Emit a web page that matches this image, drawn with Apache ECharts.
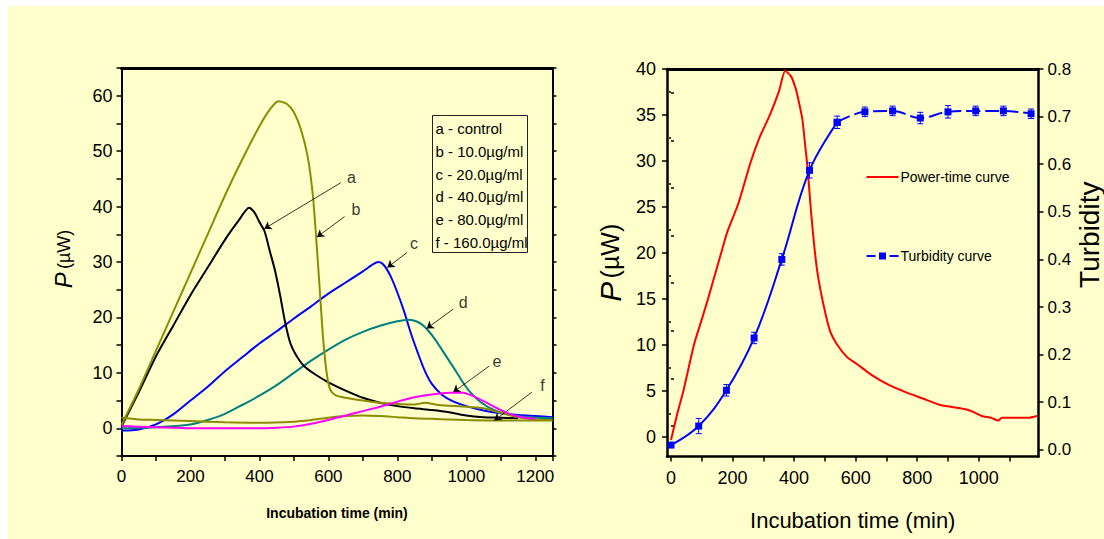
<!DOCTYPE html>
<html>
<head>
<meta charset="utf-8">
<script src="https://cdn.jsdelivr.net/npm/echarts@6/dist/echarts.min.js"></script>
<style>
html,body{margin:0;padding:0;background:#ffffff;}
#bg{position:absolute;left:8px;top:6px;width:1096px;height:533px;background:#FFFFCC;}
#c{position:absolute;left:0;top:0;width:1104px;height:539px;}
</style>
</head>
<body>
<div id="bg"></div>
<div id="c"></div>
<script>
// ---------------- Left panel data: P (µW) vs incubation time (min) ----------------
const curveA = [[0,0.3],[50,6.5],[100,13],[150,18.5],[200,24],[250,29],[300,34],[340,37.5],[370,39.8],[385,39],[400,37.2],[415,35.5],[430,32],[445,28.5],[460,24],[475,19],[490,15.3],[510,12.8],[530,11.2],[560,9.8],[600,8.3],[650,6.8],[700,5.5],[750,4.6],[800,4.0],[850,3.6],[900,3.3],[950,2.9],[1000,2.3],[1050,2.0],[1100,1.9],[1150,1.8]];
const curveB = [[0,0.6],[50,7],[100,14],[150,21],[200,28],[250,35],[300,42],[350,48.5],[400,54.5],[430,57.5],[455,59],[480,58.5],[500,57],[520,54],[540,49],[555,42],[565,34],[575,25],[585,16],[595,10],[605,7],[620,6],[650,5.5],[700,5],[750,4.6],[800,4.4],[850,4.3],[880,4.6],[920,4.2],[1000,3.9],[1050,3.6],[1100,2.8],[1150,2.0],[1200,1.6],[1250,1.5]];
const curveC = [[0,-0.4],[50,-0.2],[100,0.7],[150,2.5],[200,5],[250,7.5],[300,10.3],[350,12.8],[400,15.3],[450,17.5],[500,19.8],[550,22],[600,24.3],[650,26.3],[700,28.3],[730,29.6],[745,30],[760,29.5],[780,27.5],[800,24.5],[820,21],[840,17],[860,13.5],[880,10.3],[900,8],[930,6],[960,4.9],[1000,4],[1050,3.2],[1100,2.7],[1150,2.4],[1200,2.2],[1250,2.0]];
const curveD = [[0,0],[100,0.2],[200,0.7],[250,1.5],[300,2.6],[350,4.2],[400,5.9],[450,7.8],[500,10],[550,12.2],[600,14.2],[650,16],[700,17.4],[750,18.5],[800,19.3],[830,19.6],[850,19.4],[870,18.8],[890,17.6],[910,16],[930,14.1],[950,12.2],[970,10.3],[990,8.3],[1010,6.6],[1040,4.8],[1080,3.3],[1120,2.5],[1180,2.0],[1250,1.8]];
const curveE = [[0,0.4],[100,0.2],[200,0],[300,0],[400,0],[450,0.1],[500,0.3],[550,0.8],[600,1.5],[650,2.3],[700,3.1],[750,3.9],[800,4.8],[850,5.6],[900,6.1],[950,6.4],[990,6.4],[1020,5.8],[1050,4.9],[1080,3.9],[1110,3.0],[1140,2.3],[1170,1.9],[1200,1.7]];
const curveF = [[0,1.9],[50,1.6],[100,1.5],[200,1.3],[300,1.1],[400,1.0],[500,1.2],[550,1.5],[600,1.9],[650,2.2],[700,2.3],[750,2.2],[800,2.0],[850,1.8],[900,1.7],[950,1.6],[1000,1.5],[1100,1.4],[1200,1.4],[1250,1.4]];
const leftNames = ['a - control','b - 10.0µg/ml','c - 20.0µg/ml','d - 40.0µg/ml','e - 80.0µg/ml','f - 160.0µg/ml'];
// annotation letters and arrows (data coordinates: label, arrow start, arrow end)
const annLabels = ['a','b','c','d','e','f'];
const annText = [[667,45.2],[680,39.4],[848,33.3],[991,22.7],[1089,12.1],[1221,7.8]];
const annFrom = [[636,44.3],[647,38.2],[828,31.7],[962,21.5],[1066,11.2],[1190,6.5]];
const annTo = [[414,36],[567,34.5],[771,29],[885,18],[962,6.5],[1081,1.4]];

// ---------------- Right panel data ----------------
const powerCurve = [[0,-0.3],[20,2.5],[40,5],[75,10.1],[100,12.8],[120,15],[162,19.9],[183,22.3],[218,25.3],[259,29.9],[287,32.5],[321,35],[351,37.6],[371,39.8],[390,39.2],[404,38],[415,36.5],[427,34.5],[435,32],[443,29.5],[455,24.5],[466,20.6],[477,17.6],[494,14.6],[516,11.6],[539,10.1],[572,8.7],[606,7.9],[650,6.8],[706,5.7],[762,4.9],[818,4.2],[874,3.5],[929,3.2],[960,3.0],[985,2.7],[1010,2.3],[1041,2.1],[1063,1.8],[1075,2.1],[1131,2.1],[1160,2.1],[1190,2.3]];
const turbTime = [0,90,180,270,360,450,540,630,720,810,900,990,1080,1170];
const turbValue = [0.01,0.05,0.125,0.235,0.40,0.587,0.688,0.71,0.712,0.697,0.71,0.712,0.712,0.706];
const turbError = [0.005,0.016,0.012,0.012,0.012,0.016,0.013,0.01,0.01,0.012,0.013,0.01,0.01,0.01];
const rightNames = ['Power-time curve','Turbidity curve'];

// tick label values
const leftXLabels = [0,200,400,600,800,1000,1200];
const leftYLabels = [0,10,20,30,40,50,60];
const rightXLabels = [0,200,400,600,800,1000];
const rightXTicks = [0,100,200,300,400,500,600,700,800,900,1000,1100];
const rightYLabels = [0,5,10,15,20,25,30,35,40];
const rightYMinor = [2.5,7.5,12.5,17.5,22.5,27.5,32.5,37.5];
const turbLabels = [0,0.1,0.2,0.3,0.4,0.5,0.6,0.7,0.8];
const turbMinor = [0.05,0.15,0.25,0.35,0.45,0.55,0.65,0.75];

// ---------------- styles ----------------
const FONT = 'Arial, "Liberation Sans", Helvetica, sans-serif';
const BLACK = '#000000';
const RED = '#ff0000', BLUE = '#0000ff';
const colors = {a:'#000000', b:'#8c8c00', c:'#0000ff', d:'#008080', e:'#ff00ff', f:'#8c8c00'};

const chart = echarts.init(document.getElementById('c'), null, {renderer:'svg', width:1104, height:539});

function lineSeries(name, data, color, z){
  return {type:'line', name, data, xAxisIndex:0, yAxisIndex:0, showSymbol:false, symbol:'none',
    smooth:0.25, lineStyle:{color, width:2}, itemStyle:{color}, z, silent:true};
}

const axisLineStyle = (w)=>({show:true, onZero:false, lineStyle:{color:BLACK, width:w}});

const option = {
  animation:false,
  backgroundColor:'transparent',
  grid:[
    {left:121.5, top:68, width:431, height:388},
    {left:667, top:69, width:373, height:387.5}
  ],
  xAxis:[
    {gridIndex:0, type:'value', min:0, max:1250, interval:100, position:'bottom',
      axisLine:axisLineStyle(2),
      axisTick:{show:true, inside:false, length:5, lineStyle:{color:BLACK, width:1.5}},
      axisLabel:{formatter:v=>leftXLabels.includes(v)?String(v):'', fontSize:17, color:BLACK, fontFamily:FONT, margin:12},
      splitLine:{show:false},
      name:'Incubation time (min)', nameLocation:'middle', nameGap:50,
      nameTextStyle:{fontSize:14, fontWeight:'bold', color:BLACK, fontFamily:FONT}},
    {gridIndex:0, type:'value', min:0, max:1250, position:'top',
      axisLine:axisLineStyle(3), axisTick:{show:false}, axisLabel:{show:false}, splitLine:{show:false}},
    {gridIndex:1, type:'value', min:-13, max:1194, position:'bottom',
      axisLine:axisLineStyle(2.5),
      axisTick:{show:true, inside:false, length:5, customValues:rightXTicks, lineStyle:{color:BLACK, width:1.5}},
      axisLabel:{customValues:rightXLabels, formatter:v=>String(v), fontSize:18, color:BLACK, fontFamily:FONT, margin:12},
      splitLine:{show:false},
      name:'Incubation time (min)', nameLocation:'middle', nameGap:53,
      nameTextStyle:{fontSize:22, color:BLACK, fontFamily:FONT}},
    {gridIndex:1, type:'value', min:-13, max:1194, position:'top',
      axisLine:axisLineStyle(3), axisTick:{show:false}, axisLabel:{show:false}, splitLine:{show:false}}
  ],
  yAxis:[
    {gridIndex:0, type:'value', min:-5, max:65, interval:5, position:'left',
      axisLine:axisLineStyle(2),
      axisTick:{show:true, inside:false, length:5, lineStyle:{color:BLACK, width:1.5}},
      axisLabel:{formatter:v=>leftYLabels.includes(v)?String(v):'', fontSize:18, color:BLACK, fontFamily:FONT, margin:9},
      splitLine:{show:false},
      name:'{p|P} {u|(µW)}', nameLocation:'middle', nameGap:46, nameRotate:90,
      nameTextStyle:{color:BLACK, fontFamily:FONT, padding:[0,0,0,6],
        rich:{p:{fontSize:24, fontStyle:'italic', fontFamily:FONT, color:BLACK}, u:{fontSize:18, fontFamily:FONT, color:BLACK}}}},
    {gridIndex:0, type:'value', min:-5, max:65, interval:5, position:'right',
      axisLine:axisLineStyle(2),
      axisTick:{show:true, inside:false, length:4, lineStyle:{color:BLACK, width:1.5}},
      axisLabel:{show:false}, splitLine:{show:false}},
    {gridIndex:1, type:'value', min:-2.1, max:40, position:'left',
      axisLine:axisLineStyle(2.5),
      axisTick:{show:true, inside:false, length:5, customValues:rightYLabels, lineStyle:{color:BLACK, width:1.5}},
      axisLabel:{customValues:rightYLabels, fontSize:18, color:BLACK, fontFamily:FONT, margin:11},
      splitLine:{show:false},
      name:'{p|P} {u|(µW)}', nameLocation:'middle', nameGap:42, nameRotate:90,
      nameTextStyle:{color:BLACK, fontFamily:FONT,
        rich:{p:{fontSize:30, fontStyle:'italic', fontFamily:FONT, color:BLACK}, u:{fontSize:25, fontFamily:FONT, color:BLACK}}}},
    {gridIndex:1, type:'value', min:-0.014, max:0.8, position:'right',
      axisLine:axisLineStyle(2.5),
      axisTick:{show:true, inside:false, length:5, customValues:turbLabels, lineStyle:{color:BLACK, width:1.5}},
      axisLabel:{customValues:turbLabels, formatter:v=>v.toFixed(1), fontSize:17, color:BLACK, fontFamily:FONT, margin:9},
      splitLine:{show:false},
      name:'Turbidity', nameLocation:'middle', nameGap:35, nameRotate:90,
      nameTextStyle:{fontSize:28, color:BLACK, fontFamily:FONT, padding:[0,0,0,56]}},
    // minor tick overlays for the right panel
    {gridIndex:1, type:'value', min:-2.1, max:40, position:'left',
      axisLine:{show:false}, axisLabel:{show:false}, splitLine:{show:false},
      axisTick:{show:true, inside:false, length:2, customValues:rightYMinor, lineStyle:{color:BLACK, width:1.5}}},
    {gridIndex:1, type:'value', min:-0.014, max:0.8, position:'right',
      axisLine:{show:false}, axisLabel:{show:false}, splitLine:{show:false},
      axisTick:{show:true, inside:false, length:3, customValues:turbMinor, lineStyle:{color:BLACK, width:1.5}}}
  ],
  graphic:[
    { // legend of the left panel
      type:'group', left:430, top:113, silent:true,
      children:[{type:'rect', shape:{x:0, y:0, width:95, height:137}, style:{fill:'none', stroke:'#222', lineWidth:1}}]
        .concat(leftNames.map((t,i)=>({type:'text', x:3, y:13 + i*22.8,
          style:{text:t, fontSize:15, fontFamily:FONT, fill:BLACK, verticalAlign:'middle', align:'left'}})))
    },
    { // legend of the right panel
      type:'group', left:864, top:170, silent:true,
      children:[
        {type:'line', shape:{x1:0, y1:9, x2:32, y2:9}, style:{stroke:RED, lineWidth:2}},
        {type:'text', x:34, y:9, style:{text:rightNames[0], fontSize:14, fontFamily:FONT, fill:BLACK, verticalAlign:'middle'}},
        {type:'line', shape:{x1:0, y1:88, x2:9, y2:88}, style:{stroke:BLUE, lineWidth:2}},
        {type:'rect', shape:{x:12.5, y:84.5, width:7, height:7}, style:{fill:BLUE}},
        {type:'line', shape:{x1:23, y1:88, x2:32, y2:88}, style:{stroke:BLUE, lineWidth:2}},
        {type:'text', x:34, y:88, style:{text:rightNames[1], fontSize:14, fontFamily:FONT, fill:BLACK, verticalAlign:'middle'}}
      ]
    }
  ],
  series:[
    lineSeries(leftNames[2], curveC, colors.c, 2),
    lineSeries(leftNames[3], curveD, colors.d, 2),
    lineSeries(leftNames[0], curveA, colors.a, 3),
    lineSeries(leftNames[1], curveB, colors.b, 4),
    lineSeries(leftNames[5], curveF, colors.f, 4),
    lineSeries(leftNames[4], curveE, colors.e, 5),
    {type:'scatter', name:'annotations', xAxisIndex:0, yAxisIndex:0, silent:true, z:6,
      symbolSize:1, itemStyle:{color:'rgba(0,0,0,0)'},
      data:annLabels.map((l,i)=>({name:l, value:annText[i]})),
      label:{show:true, position:'inside', formatter:'{b}', fontSize:16, color:BLACK, fontFamily:FONT},
      markLine:{silent:true, symbol:['none','arrow'], symbolSize:7, animation:false,
        lineStyle:{color:BLACK, width:0.8, type:'solid'}, label:{show:false}, emphasis:{disabled:true},
        data:annFrom.map((f,i)=>[{coord:f},{coord:annTo[i]}])}},
    // right panel
    {type:'line', name:rightNames[0], data:powerCurve, xAxisIndex:2, yAxisIndex:2, showSymbol:false, symbol:'none',
      smooth:0.2, lineStyle:{color:RED, width:2}, itemStyle:{color:RED}, z:2, silent:true},
    {type:'line', name:'Turbidity curve (rise)', data:turbTime.slice(0,7).map((t,i)=>[t, turbValue[i]]), xAxisIndex:2, yAxisIndex:3,
      symbol:'rect', symbolSize:7, showSymbol:true, showAllSymbol:true, smooth:0.4,
      lineStyle:{color:BLUE, width:2}, itemStyle:{color:BLUE}, z:3, silent:true},
    {type:'line', name:rightNames[1], data:turbTime.slice(6).map((t,i)=>[t, turbValue[i+6]]), xAxisIndex:2, yAxisIndex:3,
      symbol:'rect', symbolSize:7, showSymbol:true, showAllSymbol:true, smooth:0.4,
      lineStyle:{color:BLUE, width:2, type:[14,5]}, itemStyle:{color:BLUE}, z:3, silent:true},
    {type:'custom', name:'turbidity error', xAxisIndex:2, yAxisIndex:3, silent:true, z:4,
      data:turbTime.map((t,i)=>[t, turbValue[i]-turbError[i], turbValue[i]+turbError[i]]),
      renderItem:function(params, api){
        const x = api.value(0);
        const lo = api.coord([x, api.value(1)]);
        const hi = api.coord([x, api.value(2)]);
        const w = 3;
        const st = {stroke:BLUE, lineWidth:1};
        return {type:'group', children:[
          {type:'line', shape:{x1:lo[0], y1:lo[1], x2:hi[0], y2:hi[1]}, style:st},
          {type:'line', shape:{x1:lo[0]-w, y1:lo[1], x2:lo[0]+w, y2:lo[1]}, style:st},
          {type:'line', shape:{x1:hi[0]-w, y1:hi[1], x2:hi[0]+w, y2:hi[1]}, style:st}
        ]};
      }}
  ]
};
chart.setOption(option);
</script>
</body>
</html>
